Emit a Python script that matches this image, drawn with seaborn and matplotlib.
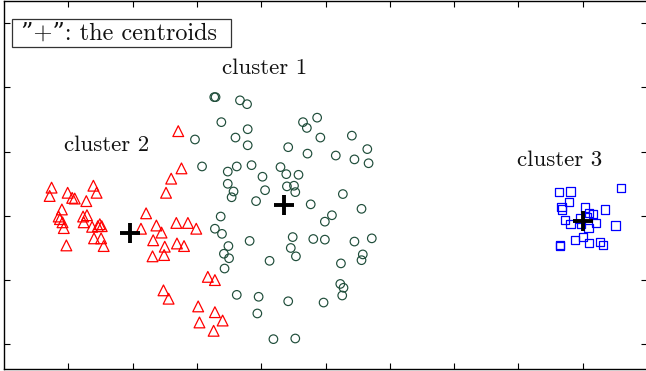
import matplotlib
matplotlib.use("Agg")
import matplotlib.pyplot as plt
from matplotlib.patches import Rectangle
import seaborn as sns
import pandas as pd

# cluster 1 (circles)
c1_x = [3.27, 3.29, 3.67, 3.78, 3.38, 3.79, 3.60, 3.79, 2.97, 4.65, 4.71, 4.87, 4.92, 4.42,
        4.72, 5.41, 5.65, 5.16, 5.45, 5.67, 3.08, 3.48, 3.62, 3.85, 4.30, 4.02, 4.39, 4.58,
        3.48, 3.57, 3.54, 4.06, 4.40, 4.51, 4.53, 3.92, 4.77, 5.27, 5.56, 3.37, 3.28, 3.39,
        3.82, 4.49, 4.46, 4.54, 4.81, 4.99, 4.99, 5.10, 5.45, 5.72, 3.49, 3.42, 3.50, 3.43,
        4.13, 5.24, 5.58, 5.56, 5.23, 5.28, 5.26, 3.62, 3.96, 4.42, 4.97, 3.94, 4.19, 4.53]
c1_y = [3.85, 3.85, 3.80, 3.74, 3.46, 3.35, 3.22, 3.10, 3.19, 3.46, 3.37, 3.53, 3.22, 3.07,
        2.97, 3.25, 3.04, 2.94, 2.88, 2.82, 2.77, 2.69, 2.77, 2.79, 2.76, 2.61, 2.65, 2.64,
        2.50, 2.38, 2.29, 2.40, 2.46, 2.47, 2.37, 2.23, 2.18, 2.34, 2.11, 1.99, 1.80, 1.72,
        1.61, 1.67, 1.50, 1.37, 1.64, 1.63, 1.91, 2.01, 1.60, 1.65, 1.53, 1.41, 1.34, 1.18,
        1.30, 1.26, 1.40, 1.31, 0.94, 0.88, 0.76, 0.77, 0.74, 0.67, 0.65, 0.48, 0.08, 0.09]

# cluster 2 (triangles)
c2_x = [2.71, 2.76, 2.60, 2.52, 0.74, 0.71, 0.99, 1.06, 1.10, 1.39, 1.44, 1.28, 0.90, 0.85,
        0.87, 0.91, 0.93, 1.23, 1.29, 1.24, 1.37, 1.46, 1.49, 1.52, 1.40, 1.51, 1.55, 0.97,
        2.21, 2.13, 2.37, 2.45, 2.68, 2.86, 2.99, 2.32, 2.50, 2.69, 2.80, 2.31, 2.49, 3.17,
        3.28, 2.48, 2.56, 3.02, 3.28, 3.40, 3.04, 3.26]
c2_y = [3.32, 2.74, 2.58, 2.36, 2.44, 2.31, 2.36, 2.28, 2.27, 2.47, 2.36, 2.23, 2.10, 1.99,
        1.95, 1.90, 1.81, 1.99, 2.01, 1.90, 1.83, 1.84, 1.87, 1.84, 1.65, 1.65, 1.53, 1.54,
        2.04, 1.80, 1.85, 1.74, 1.89, 1.89, 1.80, 1.62, 1.52, 1.57, 1.53, 1.37, 1.39, 1.05,
        1.00, 0.84, 0.71, 0.59, 0.50, 0.37, 0.34, 0.21]

# cluster 3 (squares)
c3_x = [8.63, 8.81, 9.60, 8.79, 8.67, 8.68, 9.03, 9.34, 8.72, 8.81, 8.96, 9.10, 9.16, 9.21,
        9.09, 9.51, 8.88, 9.01, 9.10, 9.27, 9.31, 8.64, 8.65, 8.97, 9.06]
c3_y = [2.37, 2.38, 2.44, 2.22, 2.14, 2.10, 2.13, 2.10, 1.93, 1.88, 1.96, 2.05, 2.03, 1.89,
        1.81, 1.85, 1.63, 1.67, 1.58, 1.59, 1.54, 1.53, 1.54, 1.87, 1.98]

# centroids
cent_x = [4.35, 1.96, 9.01]
cent_y = [2.17, 1.73, 1.92]

cluster_labels = ["cluster 1", "cluster 2", "cluster 3"]
label_x = [4.06, 1.60, 8.64]
label_y = [4.30, 3.10, 2.87]
legend_text = "\u201d+\u201d: the centroids"

sns.set_theme(style="white")
plt.rcParams["font.family"] = ["cmr10", "DejaVu Serif"]
plt.rcParams["axes.formatter.use_mathtext"] = True

W, H = 646, 371
fig = plt.figure(figsize=(W / 100, H / 100), dpi=100)
ax = fig.add_axes([4 / W, 2 / H, 643 / W, 368.5 / H])

df1 = pd.DataFrame({"x": c1_x, "y": c1_y})
df2 = pd.DataFrame({"x": c2_x, "y": c2_y})
df3 = pd.DataFrame({"x": c3_x, "y": c3_y})
dfc = pd.DataFrame({"x": cent_x, "y": cent_y})

sns.scatterplot(data=df1, x="x", y="y", ax=ax, marker="o", s=38,
                facecolor="none", edgecolor="#1f4d3a", linewidth=0.85)
sns.scatterplot(data=df2, x="x", y="y", ax=ax, marker="^", s=60,
                facecolor="none", edgecolor="#ff0000", linewidth=0.9)
sns.scatterplot(data=df3, x="x", y="y", ax=ax, marker="s", s=34,
                facecolor="none", edgecolor="#0000ff", linewidth=0.9)
sns.scatterplot(data=dfc, x="x", y="y", ax=ax, marker="+", s=190,
                color="black", linewidth=2.8)

for t, lx, ly in zip(cluster_labels, label_x, label_y):
    ax.text(lx, ly, t, ha="center", va="center", fontsize=16.5, color="#111111")

# legend-like box
ax.add_patch(Rectangle((0.0132, 0.8725), 0.3398, 0.0775, transform=ax.transAxes,
                       facecolor="white", edgecolor="#333333", linewidth=0.9, zorder=5))
ax.text(0.027, 0.910, legend_text, transform=ax.transAxes, ha="left", va="center",
        fontsize=17.5, color="#111111", zorder=6)

ax.set_xlim(0, 10)
ax.set_ylim(-0.385, 5.355)
ax.set_xticks([1, 2, 3, 4, 5, 6, 7, 8, 9])
ax.set_yticks([0, 1, 2, 3, 4, 5])
ax.set_xticklabels([])
ax.set_yticklabels([])
ax.set_xlabel("")
ax.set_ylabel("")
ax.tick_params(direction="in", length=4.5, width=0.8, color="black",
               bottom=True, top=True, left=True, right=True)
for sp in ax.spines.values():
    sp.set_color("black")
    sp.set_linewidth(1.0)
    sp.set_visible(True)

fig.savefig("out.png", dpi=100)
